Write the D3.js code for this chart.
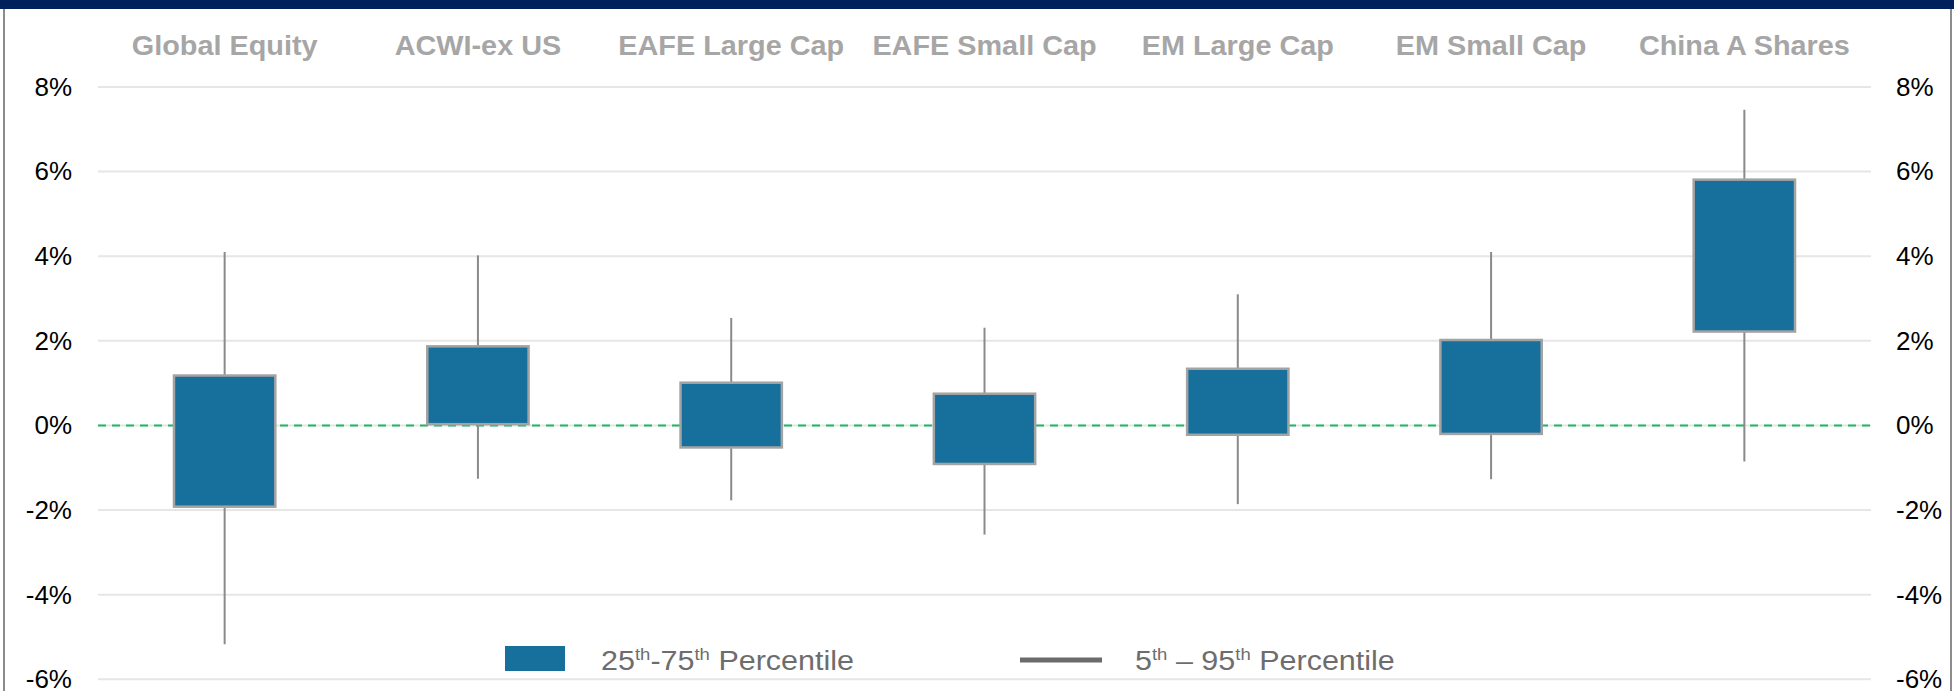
<!DOCTYPE html>
<html>
<head>
<meta charset="utf-8">
<script src="https://cdn.jsdelivr.net/npm/d3@7"></script>
<style>
  html, body { margin: 0; padding: 0; background: #fff; }
  svg { display: block; }
</style>
</head>
<body>
<svg id="chart" width="1954" height="691"></svg>
<script>
const categories = ["Global Equity", "ACWI-ex US", "EAFE Large Cap", "EAFE Small Cap", "EM Large Cap", "EM Small Cap", "China A Shares"];
const p95 = [4.10, 4.02, 2.54, 2.31, 3.10, 4.10, 7.46];
const p75 = [1.18, 1.87, 1.01, 0.75, 1.34, 2.02, 5.81];
const p25 = [-1.92, 0.03, -0.52, -0.91, -0.22, -0.20, 2.22];
const p5  = [-5.17, -1.26, -1.77, -2.58, -1.86, -1.27, -0.85];
const yTicks = [-6, -4, -2, 0, 2, 4, 6, 8];

const W = 1954, H = 691;
const svg = d3.select("#chart");
const plotL = 98, plotR = 1871;
const x = d3.scaleBand().domain(categories).range([plotL, plotR]).paddingInner(0.6).paddingOuter(0.3);
const y = d3.scaleLinear().domain([-6, 8]).range([679.3, 87]);

// top bar and borders
svg.append("rect").attr("x", 0).attr("y", 0).attr("width", W).attr("height", 9).attr("fill", "#00205b");
svg.append("line").attr("x1", 4).attr("x2", 4).attr("y1", 9).attr("y2", H).attr("stroke", "#8c8c8c").attr("stroke-width", 2);
svg.append("line").attr("x1", 1951).attr("x2", 1951).attr("y1", 9).attr("y2", H).attr("stroke", "#8c8c8c").attr("stroke-width", 2);

// gridlines
svg.append("g").selectAll("line").data(yTicks).join("line")
  .attr("x1", plotL).attr("x2", plotR)
  .attr("y1", d => y(d)).attr("y2", d => y(d))
  .attr("stroke", "#e6e6e6").attr("stroke-width", 2);

// axes labels
const fmt = d => d + "%";
const leftAxis = d3.axisLeft(y).tickValues(yTicks).tickFormat(fmt).tickSize(0).tickPadding(0);
const gl = svg.append("g").attr("transform", "translate(72,0)").call(leftAxis);
const rightAxis = d3.axisRight(y).tickValues(yTicks).tickFormat(fmt).tickSize(0).tickPadding(0);
const gr = svg.append("g").attr("transform", "translate(1896,0)").call(rightAxis);
[gl, gr].forEach(g => {
  g.select(".domain").remove();
  g.selectAll("text").attr("font-family", "Liberation Sans, Arial, sans-serif").attr("font-size", 26).attr("fill", "#000");
});

// zero line
svg.append("line").attr("x1", plotL).attr("x2", plotR).attr("y1", y(0)).attr("y2", y(0))
  .attr("stroke", "#1db865").attr("stroke-width", 2).attr("stroke-dasharray", "8,6");

const data = categories.map((c, i) => ({c, p5: p5[i], p25: p25[i], p75: p75[i], p95: p95[i]}));

// whiskers
svg.append("g").selectAll("line").data(data).join("line")
  .attr("x1", d => x(d.c) + x.bandwidth() / 2).attr("x2", d => x(d.c) + x.bandwidth() / 2)
  .attr("y1", d => y(d.p95)).attr("y2", d => y(d.p5))
  .attr("stroke", "#8a8a8a").attr("stroke-width", 2);

// boxes
svg.append("g").selectAll("rect").data(data).join("rect")
  .attr("x", d => x(d.c)).attr("width", x.bandwidth())
  .attr("y", d => y(d.p75)).attr("height", d => y(d.p25) - y(d.p75))
  .attr("fill", "#17709c").attr("stroke", "#a3a3a3").attr("stroke-width", 2.5);

// category labels
svg.append("g").selectAll("text").data(categories).join("text")
  .attr("transform", d => `translate(${x(d) + x.bandwidth() / 2},55) scale(1.03,1)`)
  .attr("text-anchor", "middle")
  .attr("font-family", "Liberation Sans, Arial, sans-serif")
  .attr("font-weight", "bold").attr("font-size", 28)
  .attr("fill", "#a6a6a6")
  .text(d => d);

// legend
const lg = svg.append("g");
lg.append("rect").attr("x", 505).attr("y", 646).attr("width", 60).attr("height", 25).attr("fill", "#17709c");
const t1 = lg.append("text").attr("transform", "translate(601,670) scale(1.09,1)")
  .attr("font-family", "Liberation Sans, Arial, sans-serif").attr("font-size", 28).attr("fill", "#6d6d6d");
t1.append("tspan").text("25");
t1.append("tspan").attr("font-size", 17).attr("dy", -10).text("th");
t1.append("tspan").attr("dy", 10).text("-75");
t1.append("tspan").attr("font-size", 17).attr("dy", -10).text("th");
t1.append("tspan").attr("dy", 10).text(" Percentile");

lg.append("line").attr("x1", 1020).attr("x2", 1102).attr("y1", 660).attr("y2", 660).attr("stroke", "#6b6b6b").attr("stroke-width", 5);
const t2 = lg.append("text").attr("transform", "translate(1135,670) scale(1.09,1)")
  .attr("font-family", "Liberation Sans, Arial, sans-serif").attr("font-size", 28).attr("fill", "#6d6d6d");
t2.append("tspan").text("5");
t2.append("tspan").attr("font-size", 17).attr("dy", -10).text("th");
t2.append("tspan").attr("dy", 10).text(" \u2013 95");
t2.append("tspan").attr("font-size", 17).attr("dy", -10).text("th");
t2.append("tspan").attr("dy", 10).text(" Percentile");
</script>
</body>
</html>
